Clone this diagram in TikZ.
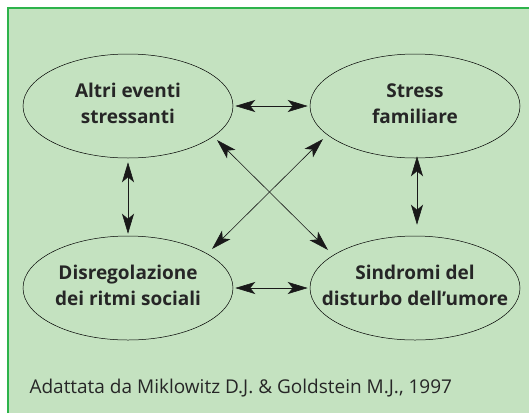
\documentclass[tikz,border=0pt]{standalone}
\usepackage{fontspec}
\setmainfont{Open Sans}
\usetikzlibrary{shapes.geometric,arrows.meta,positioning,calc}
\definecolor{panelgreen}{HTML}{C4E2C0}
\definecolor{bordergreen}{HTML}{2DB34B}
\newcommand{\twolines}[2]{\shortstack{\strut #1\\\strut #2}\rule[-8pt]{0pt}{0pt}}

\begin{document}
\begin{tikzpicture}[
			x=1pt, y=-1pt,
			every node/.style={align=center},
			factor/.style={draw, shape=ellipse, line width=0.5pt, minimum width=210pt, minimum height=104pt, inner xsep=-30pt, inner ysep=0pt, font=\bfseries\fontsize{19}{23}\selectfont, text=black!85},
			link/.style={{Stealth[length=20pt,width=12pt,inset=5pt]}-{Stealth[length=20pt,width=12pt,inset=5pt]}, line width=0.6pt, black!90}
		]
		\useasboundingbox (0,0) rectangle (529,413);
		% panel
		\fill[panelgreen] (8,8) rectangle (529,413);
		\draw[bordergreen, line width=2.2pt] (8,413) -- (8,8) -- (529,8);

		% the four factors
		\node[factor] (altri) at (128,106) {\twolines{Altri eventi}{stressanti}};
		\node[factor] (stress) at (415,106) {\twolines{Stress}{familiare}};
		\node[factor] (disreg) at (128,288) {\twolines{Disregolazione}{dei ritmi sociali}};
		\node[factor] (sindr) at (415,288) {\twolines{Sindromi del}{disturbo dell’umore}};

		% links
		\draw[link] ($(altri.east)+(2,0)$) -- ($(stress.west)+(-2,0)$);
		\draw[link] ($(disreg.east)+(2,0)$) -- ($(sindr.west)+(-2,0)$);
		\draw[link] ($(altri.south)+(0,4)$) -- ($(disreg.north)+(0,-2)$);
		\draw[link] ($(stress.south)+(2,-2)$) -- ($(sindr.north)+(2,-11)$);
		\draw[link] ($(altri.center)+(89,34)$) -- ($(sindr.center)+(-87,-38)$);
		\draw[link] ($(stress.center)+(-92,33)$) -- ($(disreg.center)+(84,-39)$);

		% source
		\node[anchor=base west, font=\fontsize{19}{20}\selectfont, text=black!85] (src) at (26,393) {Adattata da Miklowitz D.J. \& Goldstein M.J., 1997};
	\end{tikzpicture}
\end{document}
